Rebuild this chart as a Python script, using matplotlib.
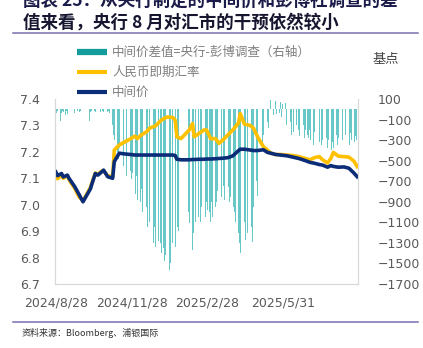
import pandas as pd
import matplotlib
matplotlib.use('Agg')
import matplotlib.pyplot as plt
from matplotlib.lines import Line2D

CJK = ['Noto Sans CJK SC', 'DejaVu Sans']

# fixing (中间价) and onshore spot (即期) read at selected dates
line_dates = [
    '2024-08-28', '2024-08-30', '2024-09-04', '2024-09-06', '2024-09-11', '2024-09-13',
    '2024-09-20', '2024-09-25', '2024-09-30', '2024-10-09', '2024-10-11', '2024-10-15',
    '2024-10-18', '2024-10-23', '2024-10-25', '2024-10-30', '2024-11-05', '2024-11-07',
    '2024-11-13', '2024-11-20', '2024-11-27', '2024-12-02', '2024-12-05', '2024-12-10',
    '2024-12-16', '2024-12-20', '2024-12-27', '2025-01-03', '2025-01-10', '2025-01-17',
    '2025-01-20', '2025-01-22', '2025-01-27', '2025-02-06', '2025-02-10', '2025-02-12',
    '2025-02-18', '2025-02-24', '2025-02-27', '2025-03-04', '2025-03-10', '2025-03-14',
    '2025-03-19', '2025-03-25', '2025-03-31', '2025-04-07', '2025-04-09', '2025-04-14',
    '2025-04-21', '2025-04-25', '2025-04-30', '2025-05-07', '2025-05-12', '2025-05-16',
    '2025-05-22', '2025-05-28', '2025-06-05', '2025-06-12', '2025-06-19', '2025-06-26',
    '2025-07-03', '2025-07-08', '2025-07-14', '2025-07-18', '2025-07-24', '2025-07-28',
    '2025-07-31', '2025-08-06', '2025-08-13', '2025-08-19', '2025-08-25', '2025-08-29',
]
fixing = [
    7.124, 7.110, 7.118, 7.105, 7.112, 7.100,
    7.068, 7.040, 7.011, 7.060, 7.080, 7.118,
    7.112, 7.125, 7.131, 7.106, 7.100, 7.163,
    7.195, 7.192, 7.190, 7.188, 7.188, 7.188,
    7.188, 7.188, 7.188, 7.188, 7.188, 7.188,
    7.186, 7.172, 7.170, 7.170, 7.171, 7.171,
    7.172, 7.172, 7.173, 7.173, 7.174, 7.175,
    7.176, 7.178, 7.185, 7.205, 7.210, 7.210,
    7.207, 7.205, 7.205, 7.208, 7.198, 7.195,
    7.190, 7.188, 7.185, 7.180, 7.175, 7.168,
    7.160, 7.157, 7.152, 7.150, 7.142, 7.148,
    7.145, 7.142, 7.143, 7.138, 7.120, 7.106,
]
spot = [
    7.115, 7.098, 7.112, 7.100, 7.110, 7.095,
    7.062, 7.030, 7.015, 7.065, 7.085, 7.120,
    7.115, 7.128, 7.128, 7.110, 7.106, 7.207,
    7.226, 7.238, 7.250, 7.260, 7.250, 7.265,
    7.275, 7.290, 7.298, 7.320, 7.332, 7.330,
    7.320, 7.257, 7.250, 7.283, 7.307, 7.257,
    7.270, 7.283, 7.283, 7.250, 7.250, 7.232,
    7.245, 7.264, 7.283, 7.310, 7.345, 7.305,
    7.300, 7.290, 7.257, 7.220, 7.207, 7.195,
    7.190, 7.190, 7.188, 7.186, 7.182, 7.176,
    7.170, 7.178, 7.182, 7.170, 7.158, 7.175,
    7.198, 7.184, 7.182, 7.180, 7.165, 7.144,
]

# daily fixing minus Bloomberg survey, bp (trading days, by month)
gap_aug24 = [-20, -35, -15]
gap_sep24 = [-25, -110, -40, -20, -30, -60, -15, -45, -25, -30, -20, -50, -35, -15, -90, -40, -25, -20, -10]
gap_oct24 = [-110, -30, -20, -45, -15, -25, -60, -20, -35, -25, -15, -40, -20, -30, -10, -50, -25, -20]
gap_nov24 = [-40, -60, -150, -250, -300, -350, -420, -480, -380, -500, -450, -550, -480, -600, -520,
             -650, -580, -720, -600, -680, -620]
gap_dec24 = [-700, -820, -650, -880, -760, -900, -780, -1000, -850, -1100, -950, -1150, -1050, -1250,
             -1100, -1200, -1050, -1300, -1150, -1340, -1200, -1280]
gap_jan25 = [-1300, -1400, -1350, -1480, -1420, -1530, -1450, -1560, -1500, -1380, -1450, -1300, -1340,
             -1200, -1280, -1150, -1180, -1050]
gap_feb25 = [-1000, -1110, -950, -1370, -1200, -1150, -1250, -1100, -1050, -1150, -1000, -1100, -950,
             -1110, -1000, -1050, -900, -980]
gap_mar25 = [-1000, -1100, -900, -1050, -850, -950, -900, -800, -920, -780, -850, -700, -800, -750,
             -880, -700, -820, -760, -900, -850, -950]
gap_apr25 = [-950, -1000, -1100, -1200, -1300, -1400, -1350, -1250, -1100, -1275, -1150, -1300, -1200,
             -1100, -1000, -1150, -1290, -950, -1000, -700, -840]
gap_may25 = [-350, -250, -180, -150, -120, -185, 60, -80, 90, -60, 40, -100, 80, -50, 100, -40, 70, -80, 50]
gap_jun25 = [60, -150, 80, -200, -120, -250, -100, -180, -220, -150, -250, -130, -200, -260, -170, -240,
             -150, -280, -200, -250]
gap_jul25 = [-280, -200, -300, -250, -350, -220, -300, -380, -260, -320, -400, -280, -350, -300, -420,
             -330, -280, -380, -300, -350, -400, -320, -380]
gap_aug25 = [-300, -250, -350, -280, -320, -200, -300, -260, -340, -290, -250, -310, -280, -350, -230,
             -300, -270, -320, -260, -300, -240]

holidays = ['2024-09-16', '2024-09-17', '2024-10-01', '2024-10-02', '2024-10-03', '2024-10-04',
            '2024-10-07', '2025-01-01', '2025-01-28', '2025-01-29', '2025-01-30', '2025-01-31',
            '2025-02-03', '2025-02-04', '2025-04-04', '2025-05-01', '2025-05-02', '2025-05-05',
            '2025-06-02']

tick_dates = ['2024-08-28', '2024-11-28', '2025-02-28', '2025-05-31']
tick_labels = ['2024/8/28', '2024/11/28', '2025/2/28', '2025/5/31']


def main():
    days = pd.bdate_range('2024-08-28', '2025-08-29')
    days = days[~days.isin(pd.to_datetime(holidays))]
    gap = (gap_aug24 + gap_sep24 + gap_oct24 + gap_nov24 + gap_dec24 + gap_jan25 + gap_feb25
           + gap_mar25 + gap_apr25 + gap_may25 + gap_jun25 + gap_jul25 + gap_aug25)
    assert len(gap) == len(days)
    ld = pd.to_datetime(line_dates)

    W, H = 423, 348
    fig = plt.figure(figsize=(W / 100, H / 100), dpi=100)
    ax = fig.add_axes([55 / W, 1 - 284 / H, 303 / W, 185 / H])
    ax2 = ax.twinx()

    ax2.bar(days, gap, width=0.75, color='#4DBDBD', alpha=0.85, linewidth=0)
    ax2.set_ylim(-1700, 100)
    ax2.set_yticks(range(-1700, 101, 200))

    ax.plot(ld, spot, color='#FFC000', lw=2.6, solid_joinstyle='round')
    ax.plot(ld, fixing, color='#0B2C77', lw=2.6, solid_joinstyle='round')
    ax.set_ylim(6.7, 7.4)
    ax.set_yticks([6.7, 6.8, 6.9, 7.0, 7.1, 7.2, 7.3, 7.4])
    ax.set_yticklabels(['%.1f' % v for v in ax.get_yticks()])
    ax.set_xlim(pd.Timestamp('2024-08-27'), pd.Timestamp('2025-08-30'))
    ax.set_xticks(pd.to_datetime(tick_dates))
    ax.set_xticklabels(tick_labels)

    # lines above the bars
    ax.set_zorder(ax2.get_zorder() + 1)
    ax.patch.set_visible(False)

    for a in (ax, ax2):
        for s in a.spines.values():
            s.set_color('#D9D9D9')
            s.set_linewidth(0.8)
        a.spines['top'].set_visible(False)
        a.tick_params(length=0, labelsize=9, labelcolor='#595959')
    ax.tick_params(axis='y', pad=11)
    ax.tick_params(axis='x', pad=9)
    ax2.tick_params(axis='y', pad=14)

    # title, two lines, the first one partly cropped
    fig.text(23 / W, 1 - 6 / H, '图表 25：从央行制定的中间价和彭博社调查的差',
             family=CJK, fontsize=12.6, weight='bold', color='#1B1B4A', va='baseline')
    fig.text(23 / W, 1 - 28 / H, '值来看，央行 8 月对汇市的干预依然较小',
             family=CJK, fontsize=12.6, weight='bold', color='#161630', va='baseline')
    for yy in (33, 322):
        fig.add_artist(Line2D([13 / W, 418 / W], [1 - yy / H, 1 - yy / H],
                              color='#7A6EAE', lw=1.1, transform=fig.transFigure))

    # legend drawn by hand
    items = [('中间价差值=央行-彭博调查（右轴）', '#129C9C', 4.5),
             ('人民币即期汇率', '#FFC000', 3.0),
             ('中间价', '#0B2C77', 3.0)]
    for i, (label, c, lw) in enumerate(items):
        y = 1 - (52 + 20 * i) / H
        fig.add_artist(Line2D([77 / W, 107 / W], [y, y], color=c, lw=lw,
                              solid_capstyle='butt', transform=fig.transFigure))
        fig.text(112 / W, y, label, family=CJK, fontsize=9, color='#7F7F7F', va='center')

    fig.text(372 / W, 1 - 59 / H, '基点', family=CJK, fontsize=9.5, color='#404040', va='center')
    fig.text(22 / W, 1 - 333 / H, '资料来源：Bloomberg、浦银国际', family=CJK, fontsize=6.5,
             color='#333333', va='center')

    fig.savefig('out.png', dpi=100)


if __name__ == '__main__':
    main()
